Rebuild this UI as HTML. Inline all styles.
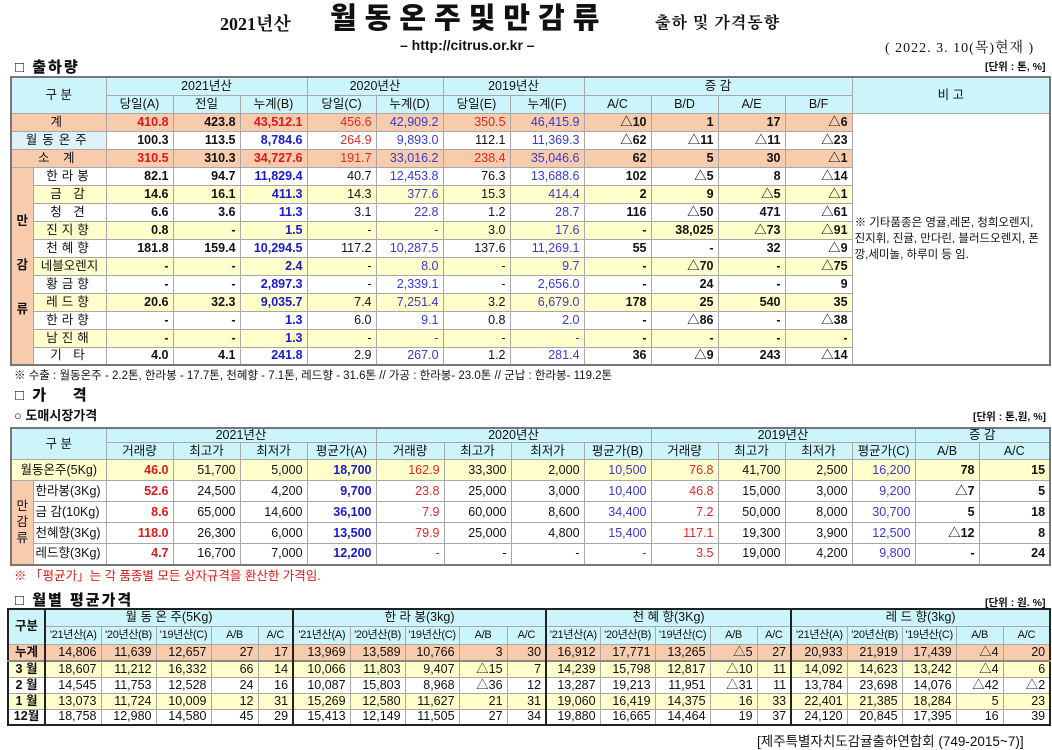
<!DOCTYPE html>
<html><head><meta charset="utf-8">
<style>
*{box-sizing:border-box}
body{margin:0;width:1052px;height:749px;background:#fff;position:relative;overflow:hidden;font-family:"Liberation Sans","Noto Sans CJK KR",sans-serif;color:#111}
.abs{position:absolute;white-space:nowrap}
table{border-collapse:collapse;table-layout:fixed;position:absolute;font-size:12.5px}
td{border:1px solid #a8a8a8;padding:0 4px;overflow:hidden;white-space:nowrap;line-height:13px}
td.n{text-align:right}
td.c{text-align:center}
.hd{background:#ccf5fb}
.sal{background:#f8cbad}
.yel{background:#ffffcc}
.lb{background:#ddf3f8}
.b{font-weight:bold}
.red{color:#e01818}
.blu{color:#1a1acc}
.pur{color:#3a3ad0}
.rd2{color:#e02828}
.sec{font-weight:900;font-size:15px;letter-spacing:2px}
</style></head>
<body>
<div class="abs" style="left:220px;top:10px;font-family:'Liberation Serif','Noto Serif CJK SC',serif;font-weight:bold;font-size:18px">2021년산</div>
<div class="abs" style="left:330px;top:2px;font-weight:900;font-size:29px;line-height:34px;letter-spacing:8px;font-family:'Liberation Sans','Noto Sans CJK KR',sans-serif">월동온주및만감류</div>
<div class="abs" style="left:655px;top:10px;font-family:'Liberation Serif','Noto Serif CJK SC',serif;font-weight:bold;font-size:16px;letter-spacing:1px">출하 및 가격동향</div>
<div class="abs" style="left:400px;top:37px;font-weight:bold;font-size:14px">– http://citrus.or.kr –</div>
<div class="abs" style="left:885px;top:37px;font-size:14px;letter-spacing:1px;font-family:'Liberation Serif','Noto Serif CJK SC',serif">( 2022. 3. 10(목)현재 )</div>
<div class="abs sec" style="left:15px;top:56px">□ 출하량</div>
<div class="abs" style="left:985px;top:59px;font-size:10.5px;font-weight:bold">[단위 : 톤, %]</div>

<table id="t1" style="left:10px;top:76px;width:1039px;border:2px solid #777"></table>
<div class="abs" style="left:14px;top:367px;font-size:11.5px">※ 수출 :  월동온주 - 2.2톤, 한라봉 - 17.7톤,  천혜향 - 7.1톤, 레드향 - 31.6톤 // 가공 : 한라봉- 23.0톤 // 군납 : 한라봉- 119.2톤</div>

<div class="abs sec" style="left:15px;top:384px">□ 가&nbsp;&nbsp;&nbsp;&nbsp;격</div>
<div class="abs" style="left:14px;top:405px;font-weight:bold;font-size:13px">○ 도매시장가격</div>
<div class="abs" style="left:973px;top:409px;font-size:10.5px;font-weight:bold">[단위 : 톤,원, %]</div>
<table id="t2" style="left:10px;top:427px;width:1039px;border:2px solid #777"></table>
<div class="abs" style="left:14px;top:565px;font-size:12.5px;color:#e01818">※  「평균가」는 각 품종별 모든 상자규격을 환산한 가격임.</div>

<div class="abs sec" style="left:15px;top:589px">□ 월별 평균가격</div>
<div class="abs" style="left:985px;top:595px;font-size:10.5px;font-weight:bold">[단위 : 원. %]</div>
<table id="t3" style="left:7px;top:608px;width:1042px;border:2px solid #222"></table>
<div class="abs" style="left:757px;top:730px;font-size:13.5px">[제주특별자치도감귤출하연합회 (749-2015~7)]</div>

<script>
// ---- shipment data ----
const shipLabels = ['계','월동온주','소 계','한라봉','금 감','청 견','진지향','천혜향','네블오렌지','황금향','레드향','한라향','남진해','기 타'];
const shipA = ['410.8','100.3','310.5','82.1','14.6','6.6','0.8','181.8','-','-','20.6','-','-','4.0'];
const shipPrev = ['423.8','113.5','310.3','94.7','16.1','3.6','-','159.4','-','-','32.3','-','-','4.1'];
const shipB = ['43,512.1','8,784.6','34,727.6','11,829.4','411.3','11.3','1.5','10,294.5','2.4','2,897.3','9,035.7','1.3','1.3','241.8'];
const shipC = ['456.6','264.9','191.7','40.7','14.3','3.1','-','117.2','-','-','7.4','6.0','-','2.9'];
const shipD = ['42,909.2','9,893.0','33,016.2','12,453.8','377.6','22.8','-','10,287.5','8.0','2,339.1','7,251.4','9.1','-','267.0'];
const shipE = ['350.5','112.1','238.4','76.3','15.3','1.2','3.0','137.6','-','-','3.2','0.8','-','1.2'];
const shipF = ['46,415.9','11,369.3','35,046.6','13,688.6','414.4','28.7','17.6','11,269.1','9.7','2,656.0','6,679.0','2.0','-','281.4'];
const shipAC = ['△10','△62','62','102','2','116','-','55','-','-','178','-','-','36'];
const shipBD = ['1','△11','5','△5','9','△50','38,025','-','△70','24','25','△86','-','△9'];
const shipAE = ['17','△11','30','8','△5','471','△73','32','-','-','540','-','-','243'];
const shipBF = ['△6','△23','△1','△14','△1','△61','△91','△9','△75','9','35','△38','-','△14'];

// ---- wholesale price data ----
const priceLabels = ['월동온주(5Kg)','한라봉(3Kg)','금 감(10Kg)','천혜향(3Kg)','레드향(3Kg)'];
const vol21 = ['46.0','52.6','8.6','118.0','4.7'];
const hi21 = ['51,700','24,500','65,000','26,300','16,700'];
const lo21 = ['5,000','4,200','14,600','6,000','7,000'];
const avg21 = ['18,700','9,700','36,100','13,500','12,200'];
const vol20 = ['162.9','23.8','7.9','79.9','-'];
const hi20 = ['33,300','25,000','60,000','25,000','-'];
const lo20 = ['2,000','3,000','8,600','4,800','-'];
const avg20 = ['10,500','10,400','34,400','15,400','-'];
const vol19 = ['76.8','46.8','7.2','117.1','3.5'];
const hi19 = ['41,700','15,000','50,000','19,300','19,000'];
const lo19 = ['2,500','3,000','8,000','3,900','4,200'];
const avg19 = ['16,200','9,200','30,700','12,500','9,800'];
const priceAB = ['78','△7','5','△12','-'];
const priceAC = ['15','5','18','8','24'];

// ---- monthly price data ----
const monthLabels = ['누계','3 월','2 월','1 월','12월'];
const groupNames = ['월 동 온 주(5Kg)','한 라 봉(3kg)','천 혜 향(3Kg)','레 드 향(3kg)'];
const wdMonthly = [['14,806','11,639','12,657','27','17'],['18,607','11,212','16,332','66','14'],['14,545','11,753','12,528','24','16'],['13,073','11,724','10,009','12','31'],['18,758','12,980','14,580','45','29']];
const hlMonthly = [['13,969','13,589','10,766','3','30'],['10,066','11,803','9,407','△15','7'],['10,087','15,803','8,968','△36','12'],['15,269','12,580','11,627','21','31'],['15,413','12,149','11,505','27','34']];
const chMonthly = [['16,912','17,771','13,265','△5','27'],['14,239','15,798','12,817','△10','11'],['13,287','19,213','11,951','△31','11'],['19,060','16,419','14,375','16','33'],['19,880','16,665','14,464','19','37']];
const rdMonthly = [['20,933','21,919','17,439','△4','20'],['14,092','14,623','13,242','△4','6'],['13,784','23,698','14,076','△42','△2'],['22,401','21,385','18,284','5','23'],['24,120','20,845','17,395','16','39']];

function cg(t, widths){
  const g=document.createElement('colgroup');
  widths.forEach(w=>{const c=document.createElement('col');c.style.width=w+'px';g.appendChild(c);});
  t.appendChild(g);
}
function row(t,h,name){
  const r=document.createElement('tr');
  r.style.height=h+'px';
  
  
  t.appendChild(r);return r;
}
function cell(r,text,cls,name,cs,rs){
  const d=document.createElement('td');
  d.textContent=text;
  if(cls)d.className=cls;
  if(cs)d.colSpan=cs;
  if(rs)d.rowSpan=rs;
  
  
  r.appendChild(d);return d;
}

// ===== table 1 =====
const t1=document.getElementById('t1');
cg(t1,[22,73,67,67,67,69,67,67,74,67,67,67,67,198]);
let r=row(t1,18,'shipment-header-row-1');
cell(r,'구      분','c hd','category-header',2,2);
cell(r,'2021년산','c hd','year-2021-header',3);
cell(r,'2020년산','c hd','year-2020-header',2);
cell(r,'2019년산','c hd','year-2019-header',2);
cell(r,'증       감','c hd','change-header',4);
cell(r,'비 고','c hd','remarks-header',1,2);
r=row(t1,18,'shipment-header-row-2');
['당일(A)','전일','누계(B)','당일(C)','누계(D)','당일(E)','누계(F)','A/C','B/D','A/E','B/F'].forEach(h=>cell(r,h,'c hd','column-header'));
const cols=[shipA,shipPrev,shipB,shipC,shipD,shipE,shipF,shipAC,shipBD,shipAE,shipBF];
const colorTotal=['red','','red','rd2','pur','rd2','pur'];
const colorWd=['','','blu','rd2','pur','','pur'];
const colorM=['','','blu','','pur','','pur'];
const yellowRows=[4,6,8,10,12];
shipLabels.forEach((lab,i)=>{
  const rr=row(t1,18,'shipment-row');
  const isTot=(i===0||i===2);
  const bg=isTot?'sal':(yellowRows.includes(i)?'yel':'');
  if(i<3){
    cell(rr,lab,'c '+(isTot?'sal':'lb'),'row-label',2).style.letterSpacing='5px';
  } else {
    if(i===3){const m=cell(rr,'만\n\n\n\n감\n\n\n\n류','c sal b','mandarin-group-label',1,11);m.style.whiteSpace='pre';m.style.lineHeight='11px';m.style.padding='0';}
    const lc=cell(rr,lab,'c '+bg,'row-label');
    lc.style.letterSpacing=lab.length>4?'0px':'4px';
    lc.style.padding='0';
  }
  const cc=isTot?colorTotal:(i===1?colorWd:colorM);
  cols.forEach((arr,k)=>{
    const b=(k<3||k>6)?' b':'';
    const col=k<7?(cc[k]?' '+cc[k]:''):'';
    cell(rr,arr[i],'n '+bg+b+col,'value-cell');
  });
  if(i===0){
    const note=cell(rr,'※ 기타품종은 영귤,레몬, 청희오렌지, 진지휘, 진귤, 만다린, 블러드오렌지, 폰깡,세미놀, 하루미 등 임.','','remarks-note',1,14);
    note.style.whiteSpace='normal';note.style.fontSize='11.5px';note.style.lineHeight='16px';note.style.padding='0 6px 0 2px';note.style.verticalAlign='middle';
  }
});

// ===== table 2 =====
const t2=document.getElementById('t2');
cg(t2,[22,73,67,67,67,69,68,67,73,67,67,67,67,63,64,71]);
r=row(t2,14,'price-header-row-1');
cell(r,'구      분','c hd','category-header',2,2);
cell(r,'2021년산','c hd','year-2021-header',4);
cell(r,'2020년산','c hd','year-2020-header',4);
cell(r,'2019년산','c hd','year-2019-header',4);
cell(r,'증    감','c hd','change-header',2);
r=row(t2,17,'price-header-row-2');
['거래량','최고가','최저가','평균가(A)','거래량','최고가','최저가','평균가(B)','거래량','최고가','최저가','평균가(C)','A/B','A/C'].forEach(h=>cell(r,h,'c hd','column-header'));
const pcols=[vol21,hi21,lo21,avg21,vol20,hi20,lo20,avg20,vol19,hi19,lo19,avg19,priceAB,priceAC];
const pstyle=['red b','','','blu b','rd2','','','pur','rd2','','','pur','b','b'];
priceLabels.forEach((lab,i)=>{
  const rr=row(t2,21,'price-row');
  const bg=i===0?'yel':'';
  if(i===0){cell(rr,lab,'c yel','row-label',2);}
  else{
    if(i===1){const m=cell(rr,'만\n감\n류','c sal','mandarin-group-label',1,4);m.style.whiteSpace='pre';m.style.lineHeight='16px';m.style.padding='0';}
    cell(rr,lab,'','row-label').style.padding='0 2px';
  }
  pcols.forEach((arr,k)=>cell(rr,arr[i],'n '+bg+' '+pstyle[k],'value-cell'));
});

// ===== table 3 =====
const t3=document.getElementById('t3');
cg(t3,[37,56,55,55,47,35,57,55,54,48,39,54,55,55,47,34,56,55,54,47,47]);
r=row(t3,17,'monthly-header-row-1');
cell(r,'구분','c hd b','category-header',1,2);
groupNames.forEach(g=>{const c=cell(r,g,'c hd','variety-header',5);c.style.borderLeft='2px solid #222';});
r=row(t3,18,'monthly-header-row-2');
for(let g=0;g<4;g++){
  ["'21년산(A)","'20년산(B)","'19년산(C)",'A/B','A/C'].forEach((h,k)=>{
    const c=cell(r,h,'c hd','column-header');c.style.padding='0';c.style.fontSize='11px';c.style.letterSpacing='-0.3px';
    if(k===0)c.style.borderLeft='2px solid #222';
  });
}
const groups=[wdMonthly,hlMonthly,chMonthly,rdMonthly];
monthLabels.forEach((lab,i)=>{
  const rr=row(t3,i===0?17:16,'monthly-row');
  const bg=i===0?'sal':((i===1||i===3)?'yel':'');
  const l=cell(rr,lab,'c b '+bg,'month-label');l.style.padding='0';
  groups.forEach(gr=>{
    gr[i].forEach((v,k)=>{
      const c=cell(rr,v,'n '+bg,'value-cell');
      if(k===0)c.style.borderLeft='2px solid #222';
    });
  });
  if(i===0)rr.style.borderBottom='2px solid #888';
});
</script>
</body></html>
